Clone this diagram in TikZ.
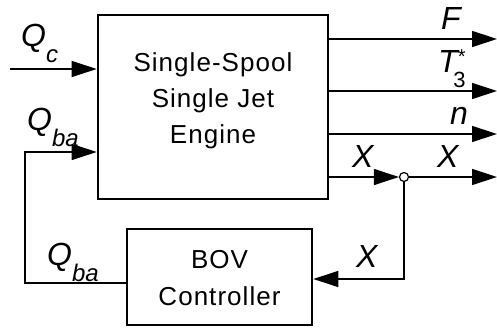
\documentclass[tikz,border=0pt]{standalone}
\usepackage{fontspec}
\setmainfont{Liberation Sans}
\newfontfamily\spacedsans[LetterSpace=4]{Liberation Sans}
\usepackage{tikz}
\usetikzlibrary{positioning,arrows.meta,calc}

% signal name with a hanging subscript
\newcommand{\sig}[2]{\textit{#1}\raisebox{-16pt}{\fontsize{24}{24}\selectfont\textit{#2}}}

\begin{document}
\begin{tikzpicture}[
  x=1pt, y=1pt,
  block/.style={rectangle, draw, line width=2.6pt, inner sep=0pt},
  flow/.style={line width=1.4pt, -{Triangle[length=25pt, width=16pt]}},
  lbl/.style={font=\fontsize{32}{32}\selectfont\itshape, inner sep=0pt, anchor=base west},
]
  \useasboundingbox (0,0) rectangle (497,332);

  % blocks
  \node[block, minimum width=230pt, minimum height=184pt,
    label={[align=center, yshift=6pt, font=\spacedsans\fontsize{26}{36}\selectfont]center:Single-Spool\\Single Jet\\Engine}]
    (engine) at (213,225) {};
  \node[block, minimum width=185pt, minimum height=96pt,
    label={[align=center, yshift=-1pt, font=\spacedsans\fontsize{26}{37}\selectfont]center:BOV\\Controller}]
    (bov) at (219.5,55) {};
  \node[circle, draw, line width=1.2pt, fill=white, minimum size=9pt, inner sep=0pt] (split) at (404,155) {};

  % free ends
  \coordinate (qc) at (10,263);
  \coordinate (qba) at (25,180);
  \coordinate (qbb) at (25,49);
  \coordinate (fb) at (404,53);
  \coordinate (fout) at (497,293);
  \coordinate (tout) at (497,241);
  \coordinate (nout) at (497,198);
  \coordinate (xout) at (497,155);

  % inputs
  \draw[flow] (qc) -- (engine.west |- qc);
  \draw[flow] (bov.west |- qbb) -- (qbb) -- (qba) -- (engine.west |- qba);

  % outputs
  \draw[flow] (engine.east |- fout) -- (fout);
  \draw[flow] (engine.east |- tout) -- (tout);
  \draw[flow] (engine.east |- nout) -- (nout);
  \draw[flow] (engine.east |- split) -- (split.west);
  \draw[flow] (split) -- (xout);
  \draw[flow] (split) -- (fb) -- (bov.east |- fb);

  % labels
  \node[lbl] (lqc) at (21,285) {\sig{Q}{c}};
  \node[lbl] (lqba) at (27,201) {\sig{Q}{ba}};
  \node[lbl] (lqbb) at (47,67) {\sig{Q}{ba}};
  \node[lbl] (lf) at (441,302) {F};
  \node[lbl] (lt) at (438,259) {T\rlap{\raisebox{9pt}{\upshape\fontsize{20}{20}\selectfont *}}\hspace{-4.5pt}\raisebox{-15pt}{\upshape\fontsize{22}{22}\selectfont 3}};
  \node[lbl] (ln) at (450,207) {n};
  \node[lbl] (lx1) at (352,164) {X};
  \node[lbl] (lx2) at (437,164) {X};
  \node[lbl] (lx3) at (356,65) {X};
\end{tikzpicture}
\end{document}
